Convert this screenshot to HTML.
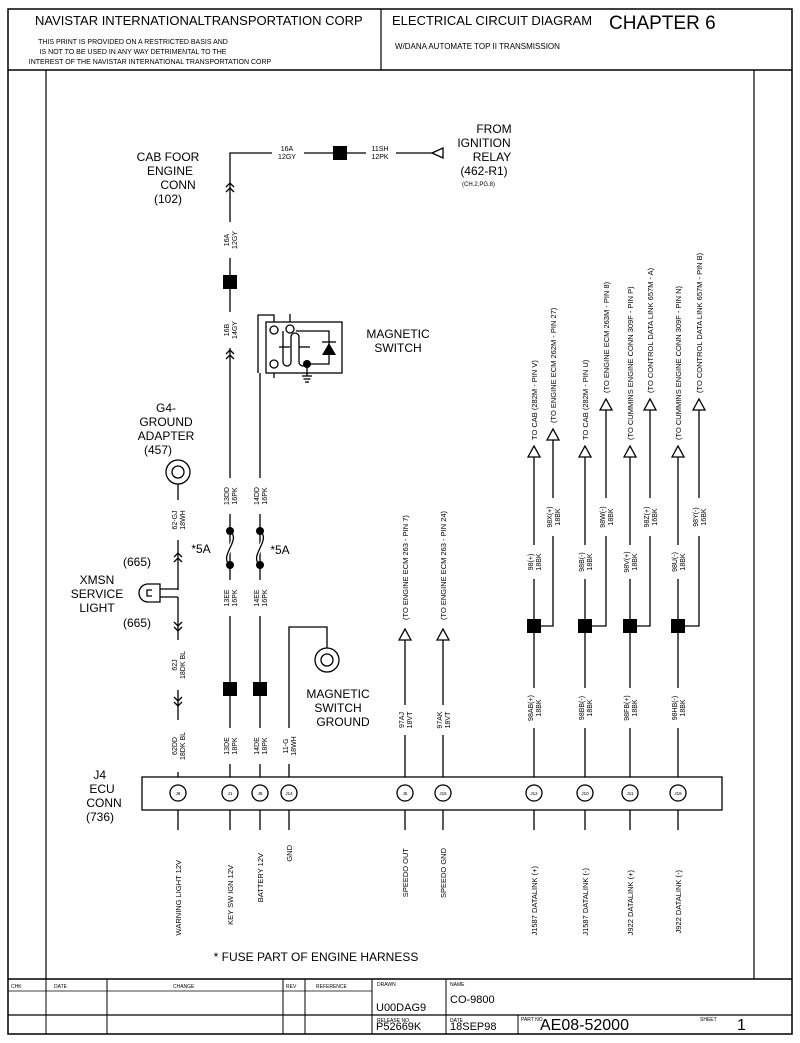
<!DOCTYPE html>
<html><head><meta charset="utf-8"><style>
html,body{margin:0;padding:0;background:#fff;overflow:hidden;}
svg{display:block;font-family:"Liberation Sans",sans-serif;}
</style></head><body>
<svg width="800" height="1043" viewBox="0 0 800 1043" xmlns="http://www.w3.org/2000/svg">
<defs>
<g id="chu"><polyline points="-4,4 0,0 4,4" fill="none" stroke="#000" stroke-width="1.3"/><polyline points="-4,9 0,5 4,9" fill="none" stroke="#000" stroke-width="1.3"/></g>
<g id="chd"><polyline points="-4,-4 0,0 4,-4" fill="none" stroke="#000" stroke-width="1.3"/><polyline points="-4,-9 0,-5 4,-9" fill="none" stroke="#000" stroke-width="1.3"/></g>
<polygon id="arr" points="-6,11 0,0 6,11" fill="#fff" stroke="#000" stroke-width="1.3"/>
</defs>
<g fill="none" stroke="#000">
<rect x="8" y="9" width="784" height="1025" stroke-width="1.5"/>
<line x1="8" y1="70" x2="792" y2="70" stroke-width="1.5"/>
<line x1="381" y1="9" x2="381" y2="70" stroke-width="1.2"/>
<line x1="46" y1="70" x2="46" y2="979" stroke-width="1.2"/>
<line x1="754" y1="70" x2="754" y2="979" stroke-width="1.2"/>
<line x1="8" y1="979" x2="792" y2="979" stroke-width="1.5"/>
<line x1="8" y1="1015" x2="792" y2="1015" stroke-width="1.2"/>
<line x1="46" y1="979" x2="46" y2="1034" stroke-width="1"/>
<line x1="107" y1="979" x2="107" y2="1034" stroke-width="1"/>
<line x1="283" y1="979" x2="283" y2="1034" stroke-width="1"/>
<line x1="305" y1="979" x2="305" y2="1034" stroke-width="1"/>
<line x1="372" y1="979" x2="372" y2="1034" stroke-width="1"/>
<line x1="446" y1="979" x2="446" y2="1034" stroke-width="1"/>
<line x1="518" y1="1015" x2="518" y2="1034" stroke-width="1"/>
<line x1="8" y1="991" x2="372" y2="991" stroke-width="0.8"/>
</g>
<g font-size="13">
<text x="35" y="25">NAVISTAR INTERNATIONALTRANSPORTATION CORP</text>
<text x="392" y="25">ELECTRICAL CIRCUIT DIAGRAM</text>
<text x="609" y="29" font-size="19">CHAPTER 6</text>
</g>
<g font-size="7" text-anchor="middle">
<text x="133" y="44">THIS PRINT IS PROVIDED ON A RESTRICTED BASIS AND</text>
<text x="133" y="54">IS NOT TO BE USED IN ANY WAY DETRIMENTAL TO THE</text>
<text x="150" y="64">INTEREST OF THE NAVISTAR INTERNATIONAL TRANSPORTATION CORP</text>
</g>
<text x="395" y="49" font-size="8">W/DANA AUTOMATE TOP II TRANSMISSION</text>
<g font-size="5">
<text x="11" y="988">CHK</text><text x="54" y="988">DATE</text><text x="173" y="988">CHANGE</text><text x="286" y="988">REV</text><text x="316" y="988">REFERENCE</text>
<text x="377" y="986">DRAWN</text><text x="450" y="986">NAME</text>
<text x="377" y="1022">RELEASE NO.</text><text x="450" y="1022">DATE</text><text x="521" y="1021">PART NO.</text><text x="700" y="1021">SHEET</text>
</g>
<g font-size="11">
<text x="376" y="1011">U00DAG9</text><text x="450" y="1003">CO-9800</text>
<text x="376" y="1030">P52669K</text><text x="450" y="1030">18SEP98</text>
<text x="540" y="1030" font-size="16">AE08-52000</text><text x="737" y="1030" font-size="16">1</text>
</g>

<g stroke="#000" stroke-width="1.3" fill="none">
<polyline points="230,780 230,153 432,153"/>
<line x1="260" y1="780" x2="260" y2="373"/>
<polyline points="258,373 258,315 274,315 274,326"/>
<line x1="274" y1="368" x2="274" y2="378"/>
<line x1="290" y1="325" x2="290" y2="314"/>
<line x1="178" y1="484" x2="178" y2="590"/>
<line x1="178" y1="597" x2="178" y2="780"/>
<polyline points="289,780 289,627 327,627 327,650"/>
<line x1="405" y1="640" x2="405" y2="780"/>
<line x1="443" y1="640" x2="443" y2="780"/>
<line x1="534" y1="457" x2="534" y2="780"/>
<line x1="585" y1="457" x2="585" y2="780"/>
<line x1="630" y1="457" x2="630" y2="780"/>
<line x1="678" y1="457" x2="678" y2="780"/>
<polyline points="534,626 553,626 553,440"/>
<polyline points="585,626 606,626 606,410"/>
<polyline points="630,626 650,626 650,410"/>
<polyline points="678,626 699,626 699,410"/>
<line x1="178" y1="810" x2="178" y2="830"/><line x1="230" y1="810" x2="230" y2="830"/>
<line x1="260" y1="810" x2="260" y2="830"/><line x1="289" y1="810" x2="289" y2="830"/>
<line x1="405" y1="810" x2="405" y2="830"/><line x1="443" y1="810" x2="443" y2="830"/>
<line x1="534" y1="810" x2="534" y2="830"/><line x1="585" y1="810" x2="585" y2="830"/>
<line x1="630" y1="810" x2="630" y2="830"/><line x1="678" y1="810" x2="678" y2="830"/>
<path d="M230 531 C 242 540, 218 556, 230 565" stroke="#fff" stroke-width="4"/>
<path d="M230 531 C 242 540, 218 556, 230 565"/>
<path d="M260 531 C 272 540, 248 556, 260 565" stroke="#fff" stroke-width="4"/>
<path d="M260 531 C 272 540, 248 556, 260 565"/>
<polygon points="432,153 443,148 443,158" fill="#fff"/>
<rect x="266" y="322" width="76" height="51" fill="#fff"/>
<path d="M283 331 V 362 A4 4 0 0 0 291 362 V 337 A4 4 0 0 1 299 337 V 362 A4 4 0 0 0 307 362"/>
<line x1="279" y1="347" x2="290" y2="347"/><line x1="299" y1="347" x2="310" y2="347"/>
<polyline points="296,331 329,331 329,364 307,364"/>
<polygon points="322,355 336,355 329,343" fill="#000" stroke="none"/>
<line x1="322" y1="342" x2="336" y2="342"/>
<line x1="307" y1="364" x2="307" y2="376"/>
<line x1="302" y1="376" x2="312" y2="376"/><line x1="303.5" y1="379" x2="310.5" y2="379"/><line x1="305" y1="382" x2="309" y2="382"/>
<circle cx="274" cy="330" r="4" fill="#fff"/><circle cx="290" cy="329" r="4" fill="#fff"/><circle cx="274" cy="364" r="4" fill="#fff"/>
<circle cx="178" cy="472" r="12" fill="#fff"/><circle cx="178" cy="472" r="6"/>
<circle cx="327" cy="660" r="12" fill="#fff"/><circle cx="327" cy="660" r="6"/>
<polyline points="178,589 150,589"/><polyline points="178,597 150,597"/>
<path d="M160 584 H 148 A 9 9 0 0 0 148 602 H 160 Z" fill="#fff"/>
<path d="M152 590 H 147 V 596 H 152"/>
<rect x="142" y="777" width="580" height="33" fill="#fff"/>
</g>
<g stroke="#000" stroke-width="1.3" fill="#fff">
<circle cx="178" cy="793" r="8"/><circle cx="230" cy="793" r="8"/><circle cx="260" cy="793" r="8"/><circle cx="289" cy="793" r="8"/>
<circle cx="405" cy="793" r="8"/><circle cx="443" cy="793" r="8"/><circle cx="534" cy="793" r="8"/><circle cx="585" cy="793" r="8"/>
<circle cx="630" cy="793" r="8"/><circle cx="678" cy="793" r="8"/>
</g>
<g font-size="4.5" text-anchor="middle">
<text x="178" y="795">J8</text><text x="230" y="795">J1</text><text x="260" y="795">J8</text><text x="289" y="795">J14</text>
<text x="405" y="795">J5</text><text x="443" y="795">J15</text><text x="534" y="795">J12</text><text x="585" y="795">J10</text>
<text x="630" y="795">J11</text><text x="678" y="795">J18</text>
</g>
<g fill="#000">
<circle cx="230" cy="531" r="4"/><circle cx="230" cy="565" r="4"/><circle cx="260" cy="531" r="4"/><circle cx="260" cy="565" r="4"/>
<circle cx="307" cy="364" r="4"/>
<rect x="333" y="146" width="14" height="14"/><rect x="223" y="275" width="14" height="14"/>
<rect x="223" y="682" width="14" height="14"/><rect x="253" y="682" width="14" height="14"/>
<rect x="527" y="619" width="14" height="14"/><rect x="578" y="619" width="14" height="14"/>
<rect x="623" y="619" width="14" height="14"/><rect x="671" y="619" width="14" height="14"/>
</g>
<use href="#chu" x="230" y="183"/><use href="#chu" x="230" y="350"/>
<use href="#chu" x="178" y="553"/><use href="#chd" x="178" y="631"/><use href="#chd" x="178" y="706"/>
<use href="#arr" x="405" y="629"/><use href="#arr" x="443" y="629"/>
<use href="#arr" x="534" y="446"/><use href="#arr" x="553" y="429"/>
<use href="#arr" x="585" y="446"/><use href="#arr" x="606" y="399"/>
<use href="#arr" x="630" y="446"/><use href="#arr" x="650" y="399"/>
<use href="#arr" x="678" y="446"/><use href="#arr" x="699" y="399"/>

<g font-size="7" text-anchor="middle">
<rect x="272" y="143" width="32" height="19" fill="#fff"/>
<text x="287" y="151">16A</text><text x="287" y="159">12GY</text>
<rect x="366" y="143" width="30" height="19" fill="#fff"/>
<text x="380" y="151">11SH</text><text x="380" y="159">12PK</text>
</g>
<g font-size="7" text-anchor="middle">
<g fill="#fff">
<rect x="222" y="222" width="16" height="36"/><rect x="222" y="312" width="16" height="36"/>
<rect x="222" y="478" width="16" height="36"/><rect x="252" y="478" width="16" height="36"/>
<rect x="170" y="500" width="16" height="40"/>
<rect x="222" y="580" width="16" height="36"/><rect x="252" y="580" width="16" height="36"/>
<rect x="170" y="640" width="16" height="50"/>
<rect x="170" y="720" width="16" height="52"/>
<rect x="222" y="728" width="16" height="36"/><rect x="252" y="728" width="16" height="36"/><rect x="281" y="728" width="16" height="36"/>
<rect x="397" y="705" width="16" height="30"/><rect x="435" y="705" width="16" height="30"/>
<rect x="526" y="545" width="16" height="34"/><rect x="545" y="498" width="16" height="38"/>
<rect x="577" y="545" width="16" height="34"/><rect x="598" y="498" width="16" height="38"/>
<rect x="622" y="545" width="16" height="34"/><rect x="642" y="498" width="16" height="38"/>
<rect x="670" y="545" width="16" height="34"/><rect x="691" y="498" width="16" height="38"/>
<rect x="526" y="688" width="16" height="40"/><rect x="577" y="688" width="16" height="40"/>
<rect x="622" y="688" width="16" height="40"/><rect x="670" y="688" width="16" height="40"/>
</g>
<g transform="translate(230,240) rotate(-90)"><text y="-1">16A</text><text y="7">12GY</text></g>
<g transform="translate(230,330) rotate(-90)"><text y="-1">16B</text><text y="7">14GY</text></g>
<g transform="translate(230,496) rotate(-90)"><text y="-1">13DD</text><text y="7">16PK</text></g>
<g transform="translate(260,496) rotate(-90)"><text y="-1">14DD</text><text y="7">16PK</text></g>
<g transform="translate(178,520) rotate(-90)"><text y="-1">62-GJ</text><text y="7">18WH</text></g>
<g transform="translate(230,598) rotate(-90)"><text y="-1">13EE</text><text y="7">16PK</text></g>
<g transform="translate(260,598) rotate(-90)"><text y="-1">14EE</text><text y="7">16PK</text></g>
<g transform="translate(178,665) rotate(-90)"><text y="-1">62J</text><text y="7">18DK BL</text></g>
<g transform="translate(178,746) rotate(-90)"><text y="-1">62DD</text><text y="7">18DK BL</text></g>
<g transform="translate(230,746) rotate(-90)"><text y="-1">13DE</text><text y="7">18PK</text></g>
<g transform="translate(260,746) rotate(-90)"><text y="-1">14DE</text><text y="7">18PK</text></g>
<g transform="translate(289,746) rotate(-90)"><text y="-1">11-G</text><text y="7">18WH</text></g>
<g transform="translate(405,720) rotate(-90)"><text y="-1">97AJ</text><text y="7">18VT</text></g>
<g transform="translate(443,720) rotate(-90)"><text y="-1">97AK</text><text y="7">18VT</text></g>
<g transform="translate(534,562) rotate(-90)"><text y="-1">98(+)</text><text y="7">18BK</text></g>
<g transform="translate(553,517) rotate(-90)"><text y="-1">98X(+)</text><text y="7">18BK</text></g>
<g transform="translate(585,562) rotate(-90)"><text y="-1">98B(-)</text><text y="7">18BK</text></g>
<g transform="translate(606,517) rotate(-90)"><text y="-1">98W(-)</text><text y="7">18BK</text></g>
<g transform="translate(630,562) rotate(-90)"><text y="-1">98V(+)</text><text y="7">18BK</text></g>
<g transform="translate(650,517) rotate(-90)"><text y="-1">98Z(+)</text><text y="7">16BK</text></g>
<g transform="translate(678,562) rotate(-90)"><text y="-1">98U(-)</text><text y="7">18BK</text></g>
<g transform="translate(699,517) rotate(-90)"><text y="-1">98Y(-)</text><text y="7">16BK</text></g>
<g transform="translate(534,708) rotate(-90)"><text y="-1">98AB(+)</text><text y="7">18BK</text></g>
<g transform="translate(585,708) rotate(-90)"><text y="-1">98BB(-)</text><text y="7">18BK</text></g>
<g transform="translate(630,708) rotate(-90)"><text y="-1">98FB(+)</text><text y="7">18BK</text></g>
<g transform="translate(678,708) rotate(-90)"><text y="-1">98HB(-)</text><text y="7">18BK</text></g>
</g>
<g font-size="7.5">
<text transform="translate(408,620) rotate(-90)">(TO ENGINE ECM 263 - PIN 7)</text>
<text transform="translate(446,620) rotate(-90)">(TO ENGINE ECM 263 - PIN 24)</text>
<text transform="translate(537,440) rotate(-90)">TO CAB (282M - PIN V)</text>
<text transform="translate(556,423) rotate(-90)">(TO ENGINE ECM 262M - PIN 27)</text>
<text transform="translate(588,440) rotate(-90)">TO CAB (282M - PIN U)</text>
<text transform="translate(609,393) rotate(-90)">(TO ENGINE ECM 263M - PIN 8)</text>
<text transform="translate(633,440) rotate(-90)">(TO CUMMINS ENGINE CONN 309F - PIN P)</text>
<text transform="translate(653,393) rotate(-90)">(TO CONTROL DATA LINK 657M - A)</text>
<text transform="translate(681,440) rotate(-90)">(TO CUMMINS ENGINE CONN 309F - PIN N)</text>
<text transform="translate(702,393) rotate(-90)">(TO CONTROL DATA LINK 657M - PIN B)</text>
</g>
<g font-size="7.5" text-anchor="end">
<text transform="translate(181,860) rotate(-90)">WARNING LIGHT 12V</text>
<text transform="translate(233,865) rotate(-90)">KEY SW IGN 12V</text>
<text transform="translate(263,853) rotate(-90)">BATTERY 12V</text>
<text transform="translate(292,845) rotate(-90)">GND</text>
<text transform="translate(408,848) rotate(-90)">SPEEDO OUT</text>
<text transform="translate(446,848) rotate(-90)">SPEEDO GND</text>
<text transform="translate(537,866) rotate(-90)">J1587 DATALINK (+)</text>
<text transform="translate(588,868) rotate(-90)">J1587 DATALINK (-)</text>
<text transform="translate(633,870) rotate(-90)">J922 DATALINK (+)</text>
<text transform="translate(681,870) rotate(-90)">J922 DATALINK (-)</text>
</g>
<g font-size="12" text-anchor="middle">
<text x="168" y="161">CAB FOOR</text><text x="170" y="175">ENGINE</text><text x="178" y="189">CONN</text><text x="168" y="203">(102)</text>
<text x="494" y="133">FROM</text><text x="484" y="147">IGNITION</text><text x="492" y="161">RELAY</text><text x="484" y="175">(462-R1)</text>
<text x="398" y="338">MAGNETIC</text><text x="398" y="352">SWITCH</text>
<text x="166" y="412">G4-</text><text x="166" y="426">GROUND</text><text x="166" y="440">ADAPTER</text><text x="158" y="454">(457)</text>
<text x="97" y="584">XMSN</text><text x="97" y="598">SERVICE</text><text x="97" y="612">LIGHT</text>
<text x="137" y="566">(665)</text><text x="137" y="627">(665)</text>
<text x="201" y="553">*5A</text><text x="280" y="554">*5A</text>
<text x="338" y="698">MAGNETIC</text><text x="338" y="712">SWITCH</text><text x="343" y="726">GROUND</text>
<text x="106" y="779" text-anchor="end">J4</text>
<text x="102" y="793">ECU</text><text x="104" y="807">CONN</text><text x="100" y="821">(736)</text>
<text x="316" y="961">* FUSE PART OF ENGINE HARNESS</text>
</g>
<text x="462" y="186" font-size="6">(CH.2,PG.8)</text>
</svg>
</body></html>
